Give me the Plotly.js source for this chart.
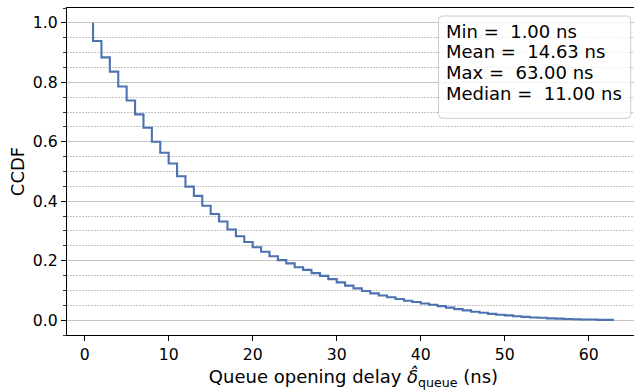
<!DOCTYPE html>
<html>
<head>
<meta charset="utf-8">
<script src="https://cdn.plot.ly/plotly-3.0.1.min.js"></script>
<style>
  html, body { margin: 0; padding: 0; overflow: hidden; background: #fff; }
  #chart { width: 640px; height: 390px; }
</style>
</head>
<body>
<div id="chart"></div>
<script>
// Queue opening delay values (ns)
const delayNs = [1, 2, 3, 4, 5, 6, 7, 8, 9, 10,
  11, 12, 13, 14, 15, 16, 17, 18, 19, 20,
  21, 22, 23, 24, 25, 26, 27, 28, 29, 30,
  31, 32, 33, 34, 35, 36, 37, 38, 39, 40,
  41, 42, 43, 44, 45, 46, 47, 48, 49, 50,
  51, 52, 53, 54, 55, 56, 57, 58, 59, 60,
  61, 62, 63];
// CCDF
const ccdf = [1.000, 0.939, 0.884, 0.836, 0.786, 0.739, 0.692, 0.647, 0.600, 0.563,
  0.527, 0.484, 0.449, 0.418, 0.385, 0.357, 0.332, 0.305, 0.282, 0.263,
  0.245, 0.230, 0.215, 0.202, 0.191, 0.178, 0.169, 0.158, 0.149, 0.138,
  0.127, 0.116, 0.107, 0.098, 0.090, 0.083, 0.077, 0.071, 0.065, 0.061,
  0.056, 0.052, 0.047, 0.042, 0.037, 0.033, 0.028, 0.025, 0.021, 0.018,
  0.016, 0.013, 0.011, 0.009, 0.008, 0.006, 0.005, 0.004, 0.003, 0.002,
  0.002, 0.001, 0.001];
// Summary statistics box
const statLabels = ['Min', 'Mean', 'Max', 'Median'];
const statValues = [1.00, 14.63, 63.00, 11.00];
const statUnit = 'ns';

const xTickVals = [0, 10, 20, 30, 40, 50, 60];

// Geometry (pixels)
const W = 640, Hh = 390;
const M = {l: 66.5, r: 0, t: 8, b: 55};
const PW = W - M.l - M.r, PH = Hh - M.t - M.b;
const px = v => (v - M.l) / PW;
const py = v => 1 - (v - M.t) / PH;

const FONT = 'DejaVu Sans, Verdana, sans-serif';

// rounded stats box
const bx0 = px(438.3), bx1 = px(630.7), byT = py(16), byB = py(118.3);
const rx = 4 / PW, ry = 4 / PH;
const boxPath = `M ${bx0 + rx},${byT} L ${bx1 - rx},${byT} Q ${bx1},${byT} ${bx1},${byT - ry} ` +
  `L ${bx1},${byB + ry} Q ${bx1},${byB} ${bx1 - rx},${byB} L ${bx0 + rx},${byB} ` +
  `Q ${bx0},${byB} ${bx0},${byB + ry} L ${bx0},${byT - ry} Q ${bx0},${byT} ${bx0 + rx},${byT} Z`;

const lineCenters = [31.1, 51.8, 72.5, 93.2];
const annotations = statLabels.map((lab, i) => ({
  xref: 'paper', yref: 'paper',
  x: px(445.5), y: py(lineCenters[i]),
  xanchor: 'left', yanchor: 'middle',
  showarrow: false,
  text: `${lab} = \u00a0${statValues[i].toFixed(2)} ${statUnit}`,
  font: {family: FONT, size: 18, color: '#000'},
  borderpad: 0, borderwidth: 0
}));

const trace = {
  x: delayNs, y: ccdf,
  type: 'scatter', mode: 'lines',
  line: {shape: 'vh', color: '#4c72b0', width: 2.1},
  hoverinfo: 'skip'
};

const layout = {
  width: W, height: Hh,
  margin: {l: M.l, r: M.r, t: M.t, b: M.b, pad: 0},
  paper_bgcolor: '#ffffff', plot_bgcolor: '#ffffff',
  showlegend: false,
  font: {family: FONT, color: '#000'},
  xaxis: {
    range: [-2.1, 66.1],
    tickvals: xTickVals, ticktext: xTickVals.map(String),
    ticks: 'outside', ticklen: 5, tickwidth: 1.1, tickcolor: '#000',
    showline: true, linecolor: '#000', linewidth: 1.1, mirror: true,
    showgrid: false, zeroline: false,
    tickfont: {family: FONT, size: 15.7, color: '#000'},
    title: {text: 'Queue opening delay <i>δ̂</i><sub>queue</sub> (ns)', font: {family: FONT, size: 18, color: '#000'}, standoff: 7}
  },
  yaxis: {
    range: [-0.05, 1.05],
    tick0: 0, dtick: 0.2, tickformat: '.1f',
    ticks: 'outside', ticklen: 5, tickwidth: 1.1, tickcolor: '#000',
    showline: true, linecolor: '#000', linewidth: 1.1, mirror: false,
    showgrid: true, gridcolor: '#c4c4c4', gridwidth: 1,
    zeroline: false,
    tickfont: {family: FONT, size: 15.7, color: '#000'},
    minor: {
      tick0: 0, dtick: 0.05,
      ticks: 'outside', ticklen: 3, tickwidth: 0.8, tickcolor: '#000',
      showgrid: true, gridcolor: '#c4c4c4', gridwidth: 1, griddash: '1.5px,1.5px'
    },
    title: {text: 'CCDF', font: {family: FONT, size: 18, color: '#000'}, standoff: 3}
  },
  shapes: [{
    type: 'path', xref: 'paper', yref: 'paper', path: boxPath,
    fillcolor: 'rgba(255,255,255,0.8)', line: {color: '#cccccc', width: 1}, layer: 'above'
  }],
  annotations: annotations
};

Plotly.newPlot('chart', [trace], layout, {displayModeBar: false, staticPlot: true});
</script>
</body>
</html>
